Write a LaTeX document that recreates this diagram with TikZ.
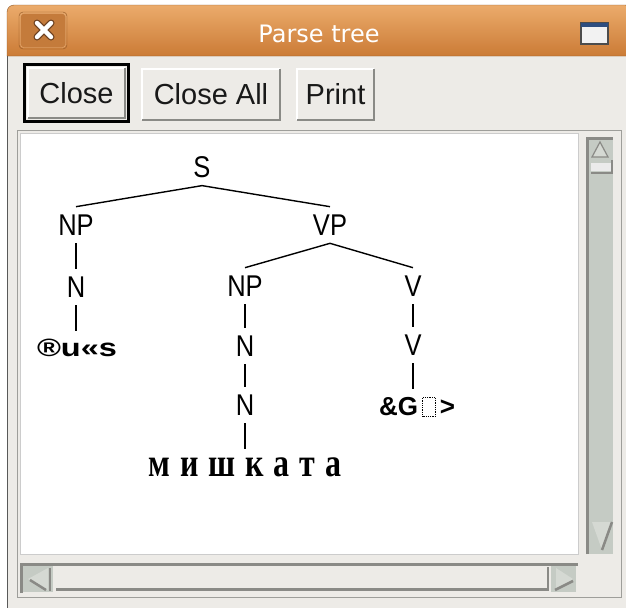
\documentclass[tikz,border=0pt]{standalone}
\usepackage{fontspec}
\setmainfont{Liberation Sans}
\newfontfamily\titlefont{DejaVu Sans}
\newfontfamily\treefont[FakeStretch=0.85]{Liberation Sans}
\newfontfamily\wideboldfont[FakeStretch=1.3]{Liberation Sans}
\newfontfamily\cyrfont[FakeStretch=0.8,LetterSpace=25]{Liberation Serif}
\definecolor{winbg}{HTML}{EDEBE7}
\definecolor{trough}{HTML}{C5CBC4}
\definecolor{edgedark}{HTML}{8A8A86}
\definecolor{framegray}{HTML}{9E9E9A}
\definecolor{titletop}{HTML}{EBAB6B}
\definecolor{titlemid}{HTML}{D78B45}
\definecolor{titlebot}{HTML}{CB7B36}
\definecolor{titleline}{HTML}{8F5726}
\definecolor{xbtn}{HTML}{C47B3B}
\definecolor{xbtnhi}{HTML}{E8B37E}
\definecolor{xdark}{HTML}{6B4020}
\definecolor{arrowfill}{HTML}{D5D9D3}
\definecolor{maxblue}{HTML}{2E4E80}
\newcommand{\missingbox}{\tikz[baseline]\draw[densely dotted,line width=0.8pt] (0pt,-1pt) rectangle (13pt,18pt);}
\begin{document}
\begin{tikzpicture}[x=1pt,y=-1pt,
  lab/.style={font=\treefont\fontsize{30}{30}\selectfont, inner sep=0pt, outer sep=8pt},
  worda/.style={font=\wideboldfont\bfseries\fontsize{25}{25}\selectfont, inner sep=0pt, outer sep=8pt},
  wordb/.style={font=\bfseries\fontsize{26}{26}\selectfont, inner sep=0pt, outer sep=8pt},
  wordc/.style={font=\cyrfont\bfseries\fontsize{40}{40}\selectfont, inner sep=0pt, outer sep=8pt},
  branch/.style={line width=1.4pt},
  btn/.style={fill=winbg, inner sep=0pt, font=\fontsize{29}{29}\selectfont, text=black!90},
  bevellight/.style={white, line width=1.5pt},
  beveldark/.style={edgedark, line width=2pt},
  sbedge/.style={edgedark, line width=2.5pt}
]
\useasboundingbox (0,0) rectangle (626,608);
\fill[white] (0,0) rectangle (626,608);
\fill[winbg] (7,55) rectangle (626,608);
% title bar
\shade[top color=titletop, middle color=titlemid, bottom color=titlebot, draw=titleline]
  (7,56) {[rounded corners=7pt] -- (7,5) -- (632,5)} -- (632,56) -- cycle;
\draw[color=black!65, line width=1.5pt] (7.5,56) -- (7.5,608);
% close icon
\draw[draw=titleline, rounded corners=4pt] (19,12) rectangle (67,49);
\draw[fill=xbtn, draw=xbtnhi, rounded corners=3pt] (20.5,13.5) rectangle (65.5,47.5);
\draw[xdark, line width=7pt, line cap=round] (37,23) -- (51,37) (51,23) -- (37,37);
\draw[white, line width=4.5pt, line cap=round] (37,23) -- (51,37) (51,23) -- (37,37);
\node[font=\titlefont\fontsize{24}{24}\selectfont, text=white, inner sep=0pt] (title) at (319,34) {Parse tree};
% maximize icon
\draw[fill=white!95!black, draw=black!70, line width=1.2pt] (581,23) rectangle (608,44);
\fill[maxblue] (581,23) rectangle (608,27);
% buttons
\node[btn, minimum width=97pt, minimum height=50pt] (close) at (76.5,93) {Close};
\node[btn, minimum width=138pt, minimum height=51pt] (closeall) at (211,94.5) {Close All};
\node[btn, minimum width=77pt, minimum height=51pt] (print) at (335.5,94.5) {Print};
\foreach \b in {close,closeall,print}{
  \draw[bevellight] (\b.south west) |- (\b.north east);
  \draw[beveldark] (\b.south west) -| (\b.north east);
}
\draw[line width=3.2pt] ([shift={(-3,3)}]close.south west) rectangle ([shift={(3,-3)}]close.north east);
% canvas frame
\draw[framegray] (17.5,130.5) rectangle (621.5,597.5);
\fill[white] (21,134) rectangle (578,554);
\draw[black!20] (20.5,133.5) rectangle (578.5,554.5);
% vertical scrollbar
\fill[trough] (586,137) rectangle (613,554);
\draw[sbedge] (587.5,554) -- (587.5,138.5) -- (613,138.5);
\draw[edgedark, fill=arrowfill, line width=1.2pt] (592,157) -- (600,142) -- (608,157) -- cycle;
\fill[black!8] (591,163) rectangle (612,171);
\draw[sbedge] (591,173) -- (612,173) -- (612,160);
\fill[arrowfill] (592,522) -- (612,522) -- (602,550) -- cycle;
\draw[sbedge] (612,522) -- (602,550);
% horizontal scrollbar
\fill[winbg] (20,563) rectangle (578,593);
\draw[sbedge] (21.5,593) -- (21.5,564.5) -- (578,564.5);
\fill[trough] (23,566) rectangle (53,592);
\fill[arrowfill] (28,579) -- (48,568) -- (48,590) -- cycle;
\draw[sbedge] (30,580) -- (46,590);
\draw[sbedge] (50,568) -- (50,591);
\draw[sbedge] (56,589.5) -- (548,589.5) -- (548,567);
\fill[trough] (551,566) rectangle (576,592);
\fill[arrowfill] (556,568) -- (573,579) -- (556,590) -- cycle;
\draw[sbedge] (555,590) -- (573,581);
% tree
\node[lab] (S) at (202,167) {S};
\node[lab] (NPa) at (76,225) {NP};
\node[lab] (VP) at (330,225) {VP};
\node[lab] (Na) at (76,287) {N};
\node[worda] (wa) at (77,348) {®u«s};
\node[lab] (NPb) at (245,286) {NP};
\node[lab] (Nb) at (245,346) {N};
\node[lab] (Nc) at (245,405) {N};
\node[wordc] (wc) at (245,467) {мишката};
\node[lab] (Va) at (413,286) {V};
\node[lab] (Vb) at (413,345) {V};
\node[wordb] (wb) at (417,407) {\&G\hspace{4pt}\missingbox\hspace{4pt}>};
\draw[branch] (S.south) -- (NPa.north);
\draw[branch] (S.south) -- (VP.north);
\draw[branch] (NPa.south) -- (Na.north);
\draw[branch] (Na.south) -- (Na.south |- wa.north);
\draw[branch] (VP.south) -- (NPb.north);
\draw[branch] (VP.south) -- (Va.north);
\draw[branch] (NPb.south) -- (Nb.north);
\draw[branch] (Nb.south) -- (Nc.north);
\draw[branch] (Nc.south) -- (wc.north);
\draw[branch] (Va.south) -- (Vb.north);
\draw[branch] (Vb.south) -- (Vb.south |- wb.north);
\end{tikzpicture}
\end{document}
